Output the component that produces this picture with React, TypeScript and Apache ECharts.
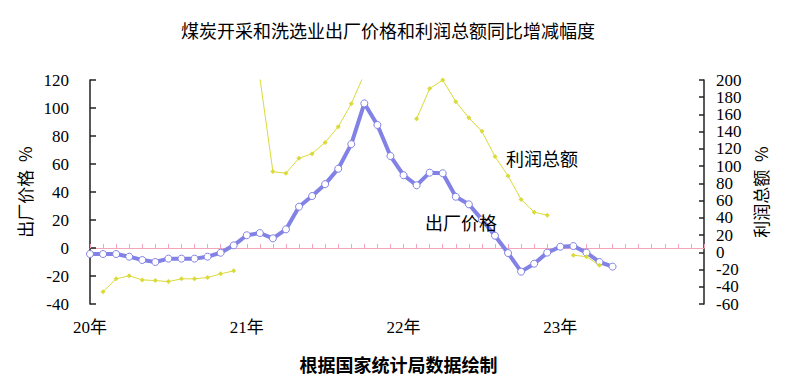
import React, { useEffect, useRef } from "react";
import * as echarts from "echarts";

// Monthly categories, Jan 2020 – Dec 2023
const years = ["2020", "2021", "2022", "2023"];
const months = ["01", "02", "03", "04", "05", "06", "07", "08", "09", "10", "11", "12"];
const categories: string[] = [];
for (const y of years) for (const m of months) categories.push(`${y}-${m}`);

// 出厂价格 同比 (%) — left axis
const priceYoY: (number | null)[] = [
  -4.3, -4.3, -4.3, -6.2, -8.6, -10.0, -7.6, -7.6, -7.6, -6.2, -3.4, 1.9,
  9.1, 10.7, 6.9, 13.3, 29.5, 37.1, 45.6, 56.6, 74.2, 103.3, 87.9, 65.7,
  52.0, 44.8, 53.8, 53.4, 36.6, 31.2, 20.3, 8.8, -3.6, -16.9, -11.2, -3.3,
  0.9, 1.4, -3.3, -10.0, -13.3, null, null, null, null, null, null, null,
];

// 利润总额 同比 (%) — right axis
const profitYoY: (number | null)[] = [
  null, -45.7, -30.8, -27.3, -32.0, -32.8, -34.0, -30.8, -30.8, -29.3, -25.0, -21.5,
  null, 203, 93.7, 91.8, 109.3, 114.4, 127.6, 145.6, 172.4, 207, 212, 212,
  null, 154.9, 190.0, 200.0, 174.8, 156.1, 140.4, 111.2, 88.7, 61.4, 46.6, 43.1,
  null, -3.3, -5.1, -15.0, null, null, null, null, null, null, null, null,
];

const leftAxis = { min: -40, max: 120, interval: 20 };
const rightAxis = { min: -60, max: 200, interval: 20 };

const titleText = "煤炭开采和洗选业出厂价格和利润总额同比增减幅度";
const sourceText = "根据国家统计局数据绘制";
const priceName = "出厂价格";
const profitName = "利润总额";

const CJK = "'Noto Sans CJK SC', sans-serif";
const SERIF = "'Liberation Serif', 'Noto Sans CJK SC', serif";
const BLUE = "#8282E6";
const YELLOW = "#DADA3A";
const PINK = "#F2A6BA";
const AXIS = "#222222";

export default function App() {
  const ref = useRef<HTMLDivElement>(null);
  useEffect(() => {
    if (!ref.current) return;
    const chart = echarts.init(ref.current, undefined, { renderer: "svg" });
    chart.setOption({
      animation: false,
      backgroundColor: "#ffffff",
      title: [
        {
          text: titleText,
          left: 176,
          top: 16,
          textStyle: { fontFamily: CJK, fontSize: 18, fontWeight: "normal", color: "#000" },
        },
        {
          text: sourceText,
          left: "center",
          top: 350,
          textStyle: { fontFamily: CJK, fontSize: 18, fontWeight: "bold", color: "#000" },
        },
      ],
      grid: { left: 90, right: 93, top: 80, bottom: 85, containLabel: false },
      xAxis: [
        {
          type: "category",
          data: categories,
          boundaryGap: false,
          position: "bottom",
          axisLine: { show: false, onZero: false },
          axisTick: { show: false },
          axisLabel: {
            interval: (idx: number) => idx % 12 === 0,
            formatter: (v: string) => v.slice(2, 4) + "年",
            fontFamily: SERIF,
            fontSize: 17,
            color: "#000",
            margin: 15,
          },
          splitLine: { show: false },
        },
        {
          type: "category",
          data: categories,
          boundaryGap: false,
          position: "bottom",
          axisLine: { show: true, onZero: true, onZeroAxisIndex: 0, lineStyle: { color: PINK, width: 1 } },
          axisTick: { show: true, inside: true, interval: 0, length: 4, lineStyle: { color: PINK } },
          axisLabel: { show: false },
          splitLine: { show: false },
        },
      ],
      yAxis: [
        {
          type: "value",
          position: "left",
          ...leftAxis,
          name: priceName + "  %",
          nameLocation: "middle",
          nameRotate: 90,
          nameGap: 57,
          nameTextStyle: { fontFamily: CJK, fontSize: 17, color: "#000" },
          axisLine: { show: true, lineStyle: { color: AXIS, width: 1.5 } },
          axisTick: { show: true, inside: true, length: 6, lineStyle: { color: AXIS, width: 1.5 } },
          axisLabel: { fontFamily: SERIF, fontSize: 17, color: "#000", margin: 21 },
          splitLine: { show: false },
        },
        {
          type: "value",
          position: "right",
          ...rightAxis,
          name: profitName + "  %",
          nameLocation: "middle",
          nameRotate: 90,
          nameGap: 46,
          nameTextStyle: { fontFamily: CJK, fontSize: 17, color: "#000" },
          axisLine: { show: true, lineStyle: { color: AXIS, width: 1.5 } },
          axisTick: { show: true, inside: true, length: 5, lineStyle: { color: AXIS, width: 1.5 } },
          axisLabel: { fontFamily: SERIF, fontSize: 17, color: "#000", margin: 12 },
          splitLine: { show: false },
        },
      ],
      series: [
        {
          name: priceName,
          type: "line",
          xAxisIndex: 0,
          yAxisIndex: 0,
          data: priceYoY,
          symbol: "circle",
          symbolSize: 7,
          showAllSymbol: true,
          lineStyle: { color: BLUE, width: 4 },
          itemStyle: { color: "#ffffff", borderColor: BLUE, borderWidth: 1 },
          z: 3,
        },
        {
          name: profitName,
          type: "line",
          xAxisIndex: 0,
          yAxisIndex: 1,
          data: profitYoY,
          symbol: "diamond",
          symbolSize: 5,
          showAllSymbol: true,
          connectNulls: false,
          lineStyle: { color: YELLOW, width: 1 },
          itemStyle: { color: YELLOW },
          z: 4,
        },
      ],
      graphic: [
        {
          type: "text",
          left: 506,
          top: 149,
          z: 10,
          style: { text: profitName, fontFamily: CJK, fontSize: 18, fill: "#000" },
        },
        {
          type: "text",
          left: 425,
          top: 213,
          z: 10,
          style: { text: priceName, fontFamily: CJK, fontSize: 18, fill: "#000" },
        },
      ],
    });
    return () => chart.dispose();
  }, []);
  return (
    <div
      ref={ref}
      style={{ position: "fixed", left: 0, top: 0, width: 797, height: 389, background: "#fff" }}
    />
  );
}
